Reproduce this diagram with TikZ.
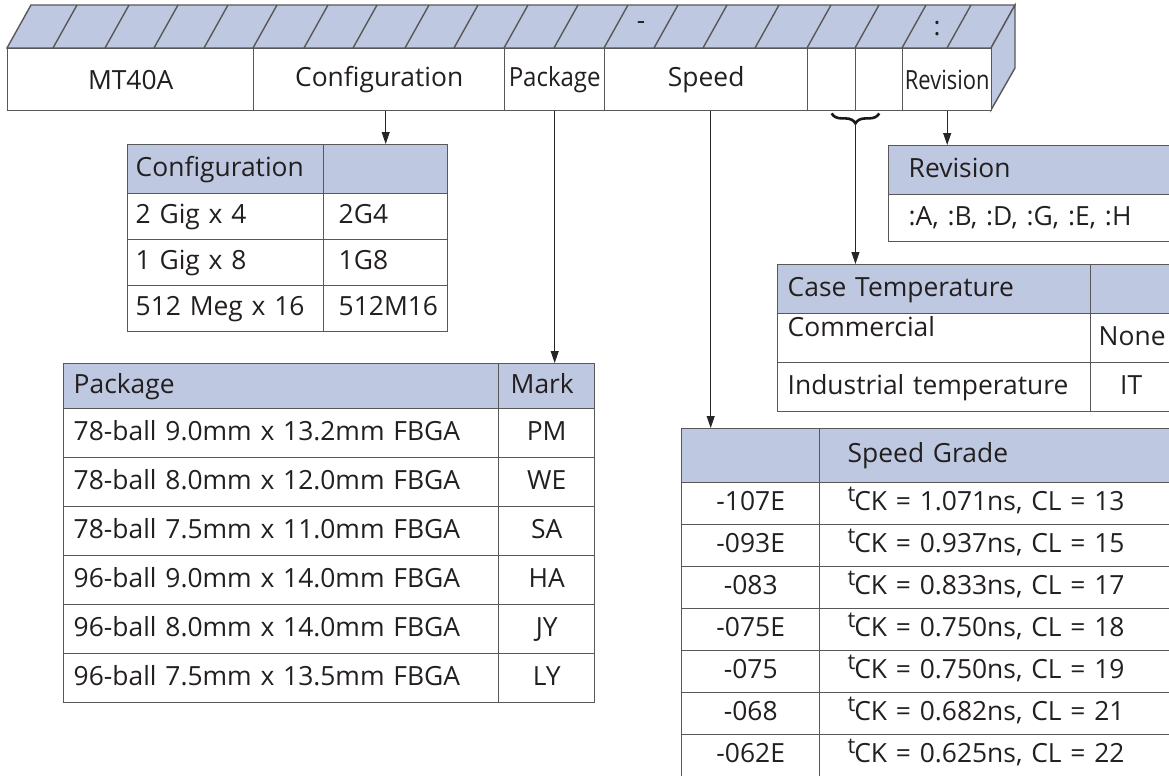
\documentclass[tikz,border=0pt]{standalone}
\usepackage{fontspec}
\setmainfont{Open Sans}
\usetikzlibrary{decorations.pathreplacing}
\usetikzlibrary{arrows.meta}

\definecolor{barblue}{RGB}{190,200,224}
\definecolor{linegray}{RGB}{88,88,88}
\definecolor{inkgray}{RGB}{35,31,32}

\newcommand{\tck}{\raisebox{4.5pt}{\fontsize{11}{11}\selectfont t}\kern-0.6pt CK}

\tikzset{
	frame/.style={draw=linegray, line width=0.7pt},
	barcell/.style={frame, fill=white, anchor=north west, inner sep=0pt, minimum height=31pt, font=\fontsize{13.2}{15}\selectfont, text=inkgray},
	tcell/.style={frame, anchor=north west, inner ysep=0pt, text height=10pt, text depth=3pt, font=\fontsize{13.2}{15}\selectfont, text=inkgray},
	hcell/.style={tcell, fill=barblue},
	lcell/.style 2 args={text width=#1, inner xsep=#2, align=left},
	ccell/.style 2 args={text width=#1, inner xsep=#2, align=center},
	arr/.style={-{Triangle[length=6pt,width=4pt]}, line width=0.5pt, draw=black!85},
	brace/.style={decorate, decoration={brace, amplitude=5pt, raise=1pt}, line width=1.3pt, draw=black!90}
}

\begin{document}
\begin{tikzpicture}[x=0.5pt, y=-0.5pt]
				\clip (0,0) rectangle (1169,776);

				% part number bar
				\draw[frame, fill=barblue] (7,48) -- (31,5) -- (1015,5) -- (991,48) -- cycle;
				\draw[frame, fill=barblue] (991,48) -- (1015,5) -- (1015,68) -- (991,110) -- cycle;
				\foreach \x in {53,105,154,204,253,304,353,405,454,504,554,604,654,703,755,807,855,902,947}
					\draw[frame] (\x,48) -- ++(24,-43);
				\node[font=\fontsize{13}{15}\selectfont, text=inkgray] (dash) at (641,26) {-};
				\node[font=\fontsize{13}{15}\selectfont, text=inkgray] (colon) at (937,29) {:};

				\node[barcell, minimum width=123pt] (bar-mt) at (7,48) {MT40A};
				\node[barcell, minimum width=125.5pt] (bar-cfg) at (253,48) {Configuration};
				\node[barcell, minimum width=50pt] (bar-pkg) at (504,48) {\scalebox{0.91}[1]{Package}};
				\node[barcell, minimum width=101.5pt] (bar-spd) at (604,48) {Speed};
				\node[barcell, minimum width=24pt] (bar-b1) at (807,48) {};
				\node[barcell, minimum width=23.5pt] (bar-b2) at (855,48) {};
				\node[barcell, minimum width=44.5pt] (bar-rev) at (902,48) {\scalebox{0.83}[1]{Revision}};

				% configuration
				\node[hcell, lcell={90pt}{4pt}, minimum height=24.5pt] (cfg-h1) at (127,144) {Configuration};
				\node[hcell, lcell={47pt}{7.5pt}, minimum height=24.5pt] (cfg-h2) at (323,144) {};
				\foreach \conf/\code [count=\i] in {2 Gig x 4/2G4, 1 Gig x 8/1G8, 512 Meg x 16/512M16}{
					\node[tcell, lcell={90pt}{4pt}, minimum height=23pt] (cfg-\i1) at (127,{193+46*(\i-1)}) {\conf};
					\node[tcell, lcell={47pt}{7.5pt}, minimum height=23pt] (cfg-\i2) at (323,{193+46*(\i-1)}) {\code};
				}

				% package
				\node[hcell, lcell={207.5pt}{5pt}, minimum height=22.5pt] (pkg-h1) at (63,363) {Package};
				\node[hcell, lcell={36pt}{6pt}, minimum height=22.5pt] (pkg-h2) at (498,363) {Mark};
				\foreach \pack/\mark [count=\i] in {78-ball 9.0mm x 13.2mm FBGA/PM, 78-ball 8.0mm x 12.0mm FBGA/WE,
					78-ball 7.5mm x 11.0mm FBGA/SA, 96-ball 9.0mm x 14.0mm FBGA/HA,
					96-ball 8.0mm x 14.0mm FBGA/JY, 96-ball 7.5mm x 13.5mm FBGA/LY}{
					\node[tcell, lcell={207.5pt}{5pt}, minimum height=24.5pt] (pkg-\i1) at (63,{408+49*(\i-1)}) {\pack};
					\node[tcell, ccell={36pt}{6pt}, minimum height=24.5pt] (pkg-\i2) at (498,{408+49*(\i-1)}) {\mark};
				}

				% speed grade
				\node[hcell, ccell={61pt}{4pt}, minimum height=27pt] (spd-h1) at (681,428) {};
				\node[hcell, lcell={155pt}{14pt}, minimum height=27pt] (spd-h2) at (819,428) {Speed Grade};
				\foreach \grade/\timing [count=\i] in {-107E/{\tck{} = 1.071ns, CL = 13}, -093E/{\tck{} = 0.937ns, CL = 15},
					-083/{\tck{} = 0.833ns, CL = 17}, -075E/{\tck{} = 0.750ns, CL = 18}, -075/{\tck{} = 0.750ns, CL = 19},
					-068/{\tck{} = 0.682ns, CL = 21}, -062E/{\tck{} = 0.625ns, CL = 22}}{
					\node[tcell, ccell={61pt}{4pt}, minimum height=21pt] (spd-\i1) at (681,{482+42*(\i-1)}) {\grade};
					\node[tcell, lcell={155pt}{14pt}, minimum height=21pt] (spd-\i2) at (819,{482+42*(\i-1)}) {\timing};
				}

				% revision
				\node[hcell, lcell={128.5pt}{10pt}, minimum height=24.5pt] (rev-h) at (888,145) {Revision};
				\node[tcell, lcell={128.5pt}{10pt}, minimum height=23.5pt] (rev-1) at (888,194) {:A, :B, :D, :G, :E, :H};

				% case temperature
				\node[hcell, lcell={146.5pt}{5pt}, minimum height=24.5pt] (tmp-h1) at (777,264) {Case Temperature};
				\node[hcell, ccell={32.5pt}{4pt}, minimum height=24.5pt] (tmp-h2) at (1090,264) {};
				\node[tcell, lcell={146.5pt}{5pt}, minimum height=24.5pt, text depth=12pt] (tmp-11) at (777,313) {Commercial};
				\node[tcell, ccell={32.5pt}{4pt}, minimum height=24.5pt] (tmp-12) at (1090,313) {None};
				\node[tcell, lcell={146.5pt}{5pt}, minimum height=24.5pt] (tmp-21) at (777,362) {Industrial temperature};
				\node[tcell, ccell={32.5pt}{4pt}, minimum height=24.5pt] (tmp-22) at (1090,362) {IT};

				% arrows
				\draw[arr] ([xshift=3.25pt]bar-cfg.south) -- ([xshift=3.25pt]bar-cfg.south |- cfg-h2.north);
				\draw[arr] (bar-pkg.south) -- (bar-pkg.south |- pkg-h2.north);
				\draw[arr] ([xshift=2.25pt]bar-spd.south) -- ([xshift=2.25pt]bar-spd.south |- spd-h1.north);
				\draw[arr] (bar-rev.south) -- (bar-rev.south |- rev-h.north);
				\draw[brace] (bar-b2.south) -- (bar-b1.south) coordinate[midway, yshift=-6pt] (brtip);
				\draw[arr] (brtip) -- (brtip |- tmp-h1.north);

\end{tikzpicture}
\end{document}
